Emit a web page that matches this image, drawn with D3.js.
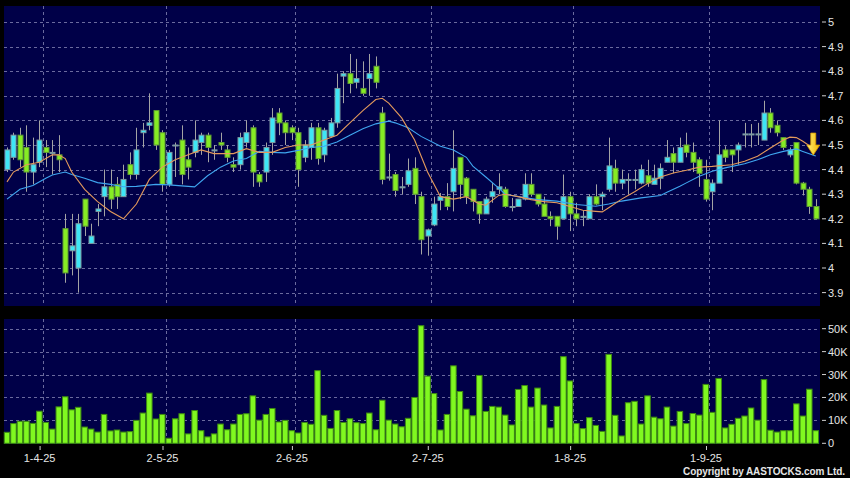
<!DOCTYPE html>
<html>
<head>
<meta charset="utf-8">
<script src="https://cdnjs.cloudflare.com/ajax/libs/d3/7.8.5/d3.min.js"></script>
<style>
body { margin: 0; background: #000; }
svg { display: block; }
text { font-family: Arial, "Liberation Sans", sans-serif; fill: #e6e6e6; }
</style>
</head>
<body>
<div id="chart"></div>
<script>
// daily candles, 25-3-25 .. 24-9-25 (index 0..125)
var opens = [4.40,4.45,4.54,4.49,4.39,4.43,4.49,4.47,4.46,4.16,
  4.07,4.00,4.28,4.10,4.23,4.29,4.33,4.34,4.29,4.42,
  4.38,4.55,4.58,4.64,4.55,4.34,4.50,4.52,4.44,4.47,
  4.51,4.54,4.48,4.51,4.48,4.42,4.42,4.51,4.57,4.38,
  4.39,4.51,4.63,4.59,4.57,4.55,4.45,4.49,4.57,4.46,
  4.535,4.59,4.78,4.79,4.755,4.73,4.77,4.82,4.63,4.37,
  4.38,4.33,4.34,4.405,4.29,4.13,4.175,4.275,4.29,4.31,
  4.45,4.365,4.32,4.27,4.22,4.29,4.32,4.32,4.25,4.25,
  4.28,4.34,4.30,4.26,4.21,4.21,4.20,4.29,4.22,4.21,
  4.20,4.29,4.29,4.32,4.405,4.345,4.36,4.36,4.345,4.375,
  4.34,4.365,4.43,4.465,4.43,4.50,4.47,4.44,4.36,4.31,
  4.345,4.48,4.48,4.48,4.545,4.545,4.545,4.52,4.63,4.58,
  4.53,4.46,4.51,4.345,4.32,4.25];
var highs = [4.49,4.55,4.57,4.58,4.53,4.60,4.52,4.52,4.54,4.22,
  4.22,4.22,4.28,4.18,4.26,4.40,4.40,4.37,4.42,4.47,
  4.57,4.59,4.71,4.64,4.56,4.48,4.51,4.58,4.49,4.60,
  4.55,4.55,4.50,4.55,4.50,4.45,4.55,4.60,4.58,4.39,
  4.51,4.65,4.65,4.60,4.58,4.57,4.52,4.59,4.59,4.57,
  4.61,4.79,4.80,4.87,4.85,4.84,4.87,4.86,4.655,4.465,
  4.39,4.37,4.445,4.45,4.31,4.16,4.29,4.305,4.345,4.56,
  4.45,4.37,4.32,4.27,4.29,4.345,4.385,4.33,4.285,4.28,
  4.385,4.385,4.30,4.29,4.23,4.21,4.38,4.31,4.265,4.235,
  4.30,4.34,4.31,4.53,4.44,4.40,4.385,4.40,4.42,4.44,
  4.42,4.425,4.52,4.49,4.53,4.55,4.51,4.45,4.44,4.36,
  4.60,4.495,4.48,4.51,4.59,4.585,4.59,4.68,4.65,4.60,
  4.53,4.49,4.51,4.35,4.33,4.28];
var lows = [4.39,4.44,4.41,4.31,4.34,4.41,4.41,4.38,4.39,3.94,
  3.97,3.90,4.13,4.10,4.17,4.21,4.24,4.24,4.29,4.36,
  4.36,4.49,4.56,4.48,4.31,4.33,4.37,4.34,4.36,4.45,
  4.46,4.43,4.44,4.48,4.43,4.39,4.40,4.49,4.33,4.33,
  4.35,4.46,4.54,4.50,4.52,4.33,4.43,4.44,4.42,4.43,
  4.53,4.57,4.67,4.71,4.73,4.70,4.70,4.73,4.34,4.355,
  4.29,4.30,4.33,4.26,4.055,4.05,4.17,4.235,4.235,4.23,
  4.28,4.26,4.23,4.18,4.22,4.265,4.30,4.245,4.23,4.25,
  4.275,4.29,4.25,4.21,4.17,4.115,4.20,4.15,4.17,4.17,
  4.20,4.255,4.235,4.31,4.31,4.32,4.30,4.32,4.34,4.33,
  4.34,4.32,4.43,4.385,4.43,4.45,4.39,4.33,4.27,4.235,
  4.345,4.43,4.39,4.42,4.49,4.49,4.50,4.52,4.55,4.535,
  4.48,4.45,4.34,4.295,4.22,4.20];
var closes = [4.48,4.54,4.44,4.39,4.42,4.52,4.47,4.47,4.44,3.98,
  4.09,4.18,4.17,4.13,4.24,4.33,4.28,4.29,4.36,4.38,
  4.48,4.56,4.59,4.50,4.34,4.47,4.50,4.38,4.41,4.52,
  4.54,4.49,4.48,4.50,4.45,4.41,4.53,4.55,4.39,4.35,
  4.49,4.61,4.59,4.55,4.55,4.40,4.50,4.57,4.445,4.56,
  4.59,4.73,4.79,4.75,4.77,4.71,4.79,4.755,4.36,4.37,
  4.315,4.33,4.395,4.30,4.115,4.155,4.26,4.29,4.25,4.405,
  4.34,4.29,4.27,4.22,4.28,4.31,4.33,4.25,4.25,4.28,
  4.34,4.30,4.26,4.21,4.20,4.17,4.29,4.22,4.20,4.21,
  4.29,4.26,4.30,4.415,4.345,4.36,4.36,4.36,4.40,4.345,
  4.365,4.405,4.45,4.43,4.49,4.47,4.43,4.385,4.28,4.345,
  4.46,4.45,4.46,4.50,4.545,4.545,4.545,4.63,4.57,4.55,
  4.49,4.48,4.345,4.32,4.25,4.20];
// volume in thousands
var volumes = [4.8,8.6,9.6,9.6,8.7,14,9.1,6.2,15.9,20.3,
  14.6,15.7,7.1,6.2,4.9,12.6,5.4,5.8,4.9,5.1,
  10,13.2,21.9,10.6,12.6,2.2,10.7,12.9,4.1,14.3,
  5.5,2.8,4.1,8.4,5.9,8.4,12.6,12.9,20.7,10.1,
  12.6,15.2,9.3,10,5.5,4.5,9.1,8.3,31.7,12.2,
  6.5,14.3,9.1,10.7,9,8.6,13.2,5.9,18.8,10.1,
  8.4,7.2,10.9,20,51.3,29.3,21.7,5.8,12.6,33.8,
  22.6,14.9,12,29.6,13.9,16.1,15.8,12.3,8,23.5,
  25.2,15.8,24.1,16.7,6.7,16.1,37.8,27.2,8.6,6.4,
  11.2,7.8,5.2,38.8,12.2,3.2,17.7,18.3,8.4,20.7,
  11.4,10.7,15.8,7.5,13.9,8.6,13,12.3,25.7,13.5,
  28.3,6.7,8.3,10.9,11.9,15.4,10.1,27.8,5.7,4.9,
  5.5,5.5,17.2,11.9,23.6,5.5];

// moving averages (index, value)
var ma10Idx = [0,1,3,5,7,8,9,10,12,14,16,18,20,22,24,26,28,30,32,35,37,39,41,43,45,47,49,51,53,55,57,58,59,61,63,65,67,69,71,73,74,76,77,79,81,83,85,87,89,91,92,93,95,97,99,101,103,105,107,109,112,114,116,118,120,121,122,123,125];
var ma10Val = [4.35,4.39,4.42,4.43,4.46,4.46,4.445,4.39,4.32,4.27,4.23,4.20,4.26,4.36,4.41,4.44,4.46,4.48,4.465,4.465,4.485,4.47,4.47,4.49,4.50,4.50,4.52,4.54,4.59,4.64,4.685,4.69,4.67,4.61,4.52,4.39,4.29,4.28,4.29,4.26,4.255,4.295,4.30,4.29,4.278,4.27,4.265,4.25,4.235,4.23,4.228,4.245,4.28,4.31,4.343,4.37,4.386,4.397,4.41,4.413,4.42,4.434,4.454,4.488,4.52,4.532,4.53,4.515,4.48];
var ma20Idx = [0,2,4,6,7,9,10,12,14,16,18,20,23,25,29,31,33,35,37,39,41,43,45,47,49,51,53,55,57,59,60,62,64,67,69,71,72,74,76,77,79,82,85,88,91,93,95,98,101,102,104,105,107,109,111,114,116,118,120,122,123,125];
var ma20Val = [4.28,4.32,4.335,4.365,4.378,4.39,4.38,4.365,4.347,4.34,4.33,4.332,4.34,4.338,4.33,4.375,4.41,4.435,4.445,4.474,4.47,4.468,4.478,4.49,4.495,4.512,4.54,4.566,4.586,4.597,4.59,4.57,4.535,4.495,4.48,4.45,4.414,4.37,4.325,4.30,4.29,4.278,4.272,4.258,4.251,4.26,4.272,4.285,4.295,4.308,4.332,4.346,4.373,4.393,4.407,4.424,4.44,4.46,4.474,4.484,4.474,4.455];

var priceTicks = [5,4.9,4.8,4.7,4.6,4.5,4.4,4.3,4.2,4.1,4,3.9];
var volTicks = [0,10,20,30,40,50];
var dateIdx = [5,24,44,65,87,108];
var dateLabels = ["1-4-25","2-5-25","2-6-25","2-7-25","1-8-25","1-9-25"];

var W = 850, H = 478;
var panelLeft = 4, panelRight = 820;
var price = {top: 6, bottom: 306},
    vol = {top: 319, bottom: 444};

var x = d3.scaleLinear().domain([0, 125]).range([7, 815.75]);
var y = d3.scaleLinear().domain([3.9, 5]).range([292.6, 22]);
var yv = d3.scaleLinear().domain([0, 50]).range([443.3, 328.7]);

var svg = d3.select("#chart").append("svg")
    .attr("width", W)
    .attr("height", H);

svg.append("rect").attr("width", W).attr("height", H).attr("fill", "#000");

// PANELS

[price, vol].forEach(function(p) {
    svg.append("rect")
        .attr("x", panelLeft)
        .attr("y", p.top)
        .attr("width", panelRight - panelLeft)
        .attr("height", p.bottom - p.top)
        .attr("fill", "#000048");
});

// GRID

var gridColor = "#6a6a9e";

svg.append("g").selectAll("line")
    .data(priceTicks)
    .enter().append("line")
    .attr("x1", panelLeft).attr("x2", panelRight)
    .attr("y1", function(d) { return Math.round(y(d)) + 0.5; })
    .attr("y2", function(d) { return Math.round(y(d)) + 0.5; })
    .attr("stroke", gridColor)
    .attr("stroke-dasharray", "3,3");

svg.append("g").selectAll("line")
    .data(volTicks.slice(1))
    .enter().append("line")
    .attr("x1", panelLeft).attr("x2", panelRight)
    .attr("y1", function(d) { return Math.round(yv(d)) + 0.5; })
    .attr("y2", function(d) { return Math.round(yv(d)) + 0.5; })
    .attr("stroke", gridColor)
    .attr("stroke-dasharray", "3,3");

[price, vol].forEach(function(p) {
    svg.append("g").selectAll("line")
        .data(dateIdx)
        .enter().append("line")
        .attr("x1", function(d) { return Math.round(x(d + 0.5)) + 0.5; })
        .attr("x2", function(d) { return Math.round(x(d + 0.5)) + 0.5; })
        .attr("y1", p.top).attr("y2", p.bottom)
        .attr("stroke", gridColor)
        .attr("stroke-dasharray", "3,3");
});

// RIGHT AXES

var pAxis = svg.append("g");
pAxis.selectAll("line").data(priceTicks).enter().append("line")
    .attr("x1", 822).attr("x2", 826)
    .attr("y1", function(d) { return y(d); })
    .attr("y2", function(d) { return y(d); })
    .attr("stroke", "#cfcfcf");
pAxis.selectAll("text").data(priceTicks).enter().append("text")
    .attr("x", 828)
    .attr("y", function(d) { return y(d); })
    .attr("dy", "0.36em")
    .style("font-size", "11px")
    .text(function(d) { return String(d); });

var vAxis = svg.append("g");
vAxis.selectAll("line").data(volTicks).enter().append("line")
    .attr("x1", 822).attr("x2", 826)
    .attr("y1", function(d) { return yv(d); })
    .attr("y2", function(d) { return yv(d); })
    .attr("stroke", "#cfcfcf");
vAxis.selectAll("text").data(volTicks).enter().append("text")
    .attr("x", 828)
    .attr("y", function(d) { return yv(d); })
    .attr("dy", "0.36em")
    .style("font-size", "11px")
    .text(function(d) { return d === 0 ? "0" : d + "K"; });

// DATE AXIS

var dAxis = svg.append("g");
dAxis.selectAll("line").data(dateIdx).enter().append("line")
    .attr("x1", function(d) { return x(d + 0.5) - 2.5; })
    .attr("x2", function(d) { return x(d + 0.5) - 2.5; })
    .attr("y1", 446).attr("y2", 450)
    .attr("stroke", "#cfcfcf");
dAxis.selectAll("text").data(dateIdx).enter().append("text")
    .attr("x", function(d) { return x(d + 0.5) - 3; })
    .attr("y", 461.5)
    .attr("text-anchor", "middle")
    .style("font-size", "11px")
    .text(function(d, i) { return dateLabels[i]; });

// VOLUME BARS

svg.append("g").selectAll("rect")
    .data(volumes)
    .enter().append("rect")
    .attr("x", function(d, i) { return x(i) - 2.75; })
    .attr("y", function(d) { return yv(d); })
    .attr("width", 5.5)
    .attr("height", function(d) { return yv(0) - yv(d); })
    .attr("fill", "#80f820")
    .attr("stroke", "#3d8a12")
    .attr("stroke-width", 1);

// CANDLES

var candles = opens.map(function(o, i) {
    return {i: i, o: o, h: highs[i], l: lows[i], c: closes[i]};
});

var upFill = "#3ee6f6", downFill = "#86ec24";

var cg = svg.append("g");
cg.selectAll("line.wick")
    .data(candles)
    .enter().append("line")
    .attr("class", "wick")
    .attr("x1", function(d) { return Math.round(x(d.i)) + 0.5; })
    .attr("x2", function(d) { return Math.round(x(d.i)) + 0.5; })
    .attr("y1", function(d) { return y(d.h); })
    .attr("y2", function(d) { return y(d.l); })
    .attr("stroke", "#a4a4a4");

cg.selectAll("rect.body")
    .data(candles)
    .enter().append("rect")
    .attr("class", "body")
    .attr("x", function(d) { return Math.round(x(d.i)) - 2; })
    .attr("y", function(d) { return y(Math.max(d.o, d.c)); })
    .attr("width", 5)
    .attr("height", function(d) { return Math.max(1, Math.abs(y(d.o) - y(d.c))); })
    .attr("fill", function(d) { return d.c >= d.o ? upFill : downFill; })
    .attr("stroke", function(d) { return d.c >= d.o ? "#7c9aa0" : "#5f9a34"; })
    .attr("stroke-width", 1);

// MOVING AVERAGES

var line = d3.line()
    .x(function(d) { return x(d[0]); })
    .y(function(d) { return y(d[1]); });

svg.append("path")
    .attr("d", line(ma20Idx.map(function(d, i) { return [d, ma20Val[i]]; })))
    .attr("fill", "none")
    .attr("stroke", "#3fa6f0")
    .attr("stroke-width", 1.1);

svg.append("path")
    .attr("d", line(ma10Idx.map(function(d, i) { return [d, ma10Val[i]]; })))
    .attr("fill", "none")
    .attr("stroke", "#e49a5c")
    .attr("stroke-width", 1.1);

// LAST PRICE ARROW

var grad = svg.append("defs").append("linearGradient")
    .attr("id", "arrowGrad")
    .attr("x1", "0%").attr("x2", "100%");
grad.append("stop").attr("offset", "0%").attr("stop-color", "#fff27a");
grad.append("stop").attr("offset", "100%").attr("stop-color", "#f2b400");

var tipX = x(125) - 2.5, tipY = y(ma20Val[ma20Val.length - 1]) - 1;
svg.append("path")
    .attr("d", "M" + (tipX - 2.5) + "," + (tipY - 22) +
        "H" + (tipX + 2.5) + "V" + (tipY - 10) +
        "H" + (tipX + 6.5) + "L" + tipX + "," + tipY +
        "L" + (tipX - 6.5) + "," + (tipY - 10) +
        "H" + (tipX - 2.5) + "Z")
    .attr("fill", "url(#arrowGrad)")
    .attr("stroke", "#d89a00")
    .attr("stroke-width", 0.8);

// COPYRIGHT

svg.append("text")
    .attr("x", 845)
    .attr("y", 475)
    .attr("text-anchor", "end")
    .attr("textLength", 162)
    .attr("lengthAdjust", "spacing")
    .style("font-size", "10px")
    .style("font-weight", "bold")
    .text("Copyright by AASTOCKS.com Ltd.");
</script>
</body>
</html>
